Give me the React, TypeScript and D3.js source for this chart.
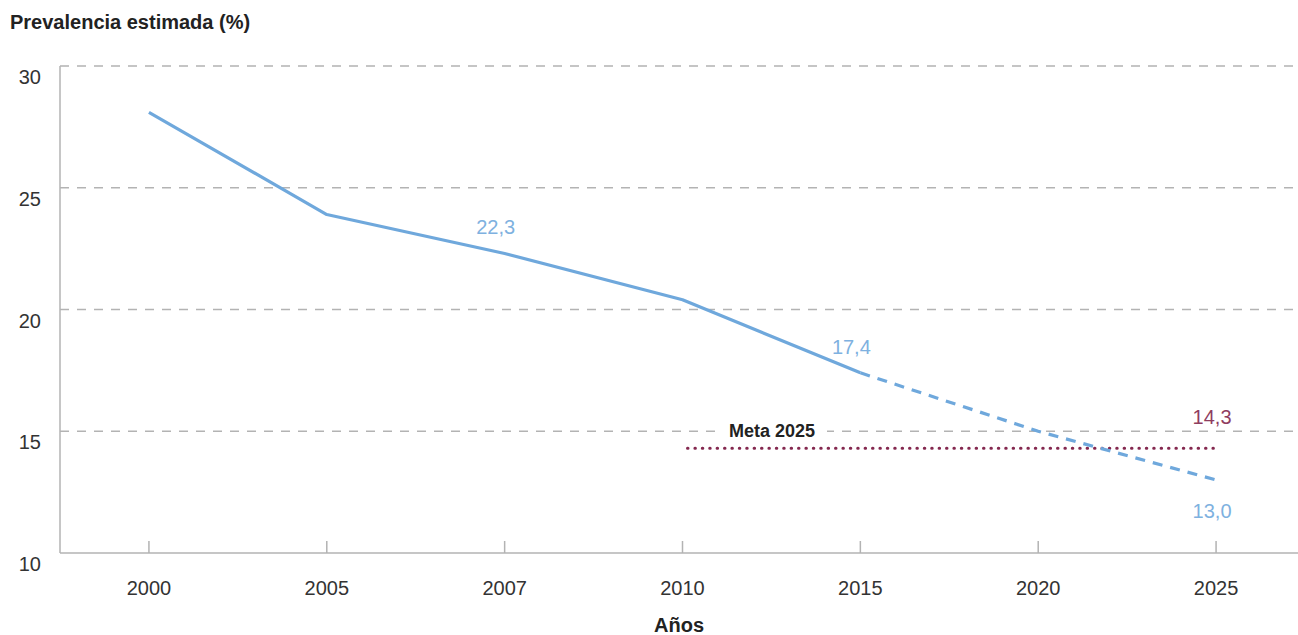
import React, { useEffect, useRef } from 'react';
import * as d3 from 'd3';

const years = ['2000', '2005', '2007', '2010', '2015', '2020', '2025'];
const prevalence = [28.1, 23.9, 22.3, 20.4, 17.4, 15.0, 13.0];
const yTicks = [10, 15, 20, 25, 30];
const labelled = [
  { year: '2007', value: 22.3, text: '22,3' },
  { year: '2015', value: 17.4, text: '17,4' },
];
const lastLabel = { year: '2025', value: 13.0, text: '13,0' };
const metaStart = '2010';
const metaEnd = '2025';
const metaValue = 14.3;
const metaText = '14,3';

const App: React.FC = () => {
  const svgRef = useRef<SVGSVGElement>(null);

  useEffect(() => {
    if (!svgRef.current) return;
    const width = 1298;
    const height = 635;
    const svg = d3.select(svgRef.current);
    svg.selectAll('*').remove();
    svg.attr('width', width).attr('height', height).attr('viewBox', `0 0 ${width} ${height}`);

    const font = "'Liberation Sans', Arial, sans-serif";
    const blue = '#6fa8dc';
    const blueText = '#7eb1e0';
    const maroon = '#84284f';
    const grey = '#b3b3b3';

    const left = 60;
    const x = d3.scalePoint<string>().domain(years).range([left, 1305]).padding(0.5);
    const y = d3.scaleLinear().domain([10, 30]).range([553, 66]);

    // Title
    svg.append('text')
      .attr('x', 10).attr('y', 29)
      .attr('font-family', font).attr('font-size', 20).attr('font-weight', 'bold')
      .attr('fill', '#222')
      .text('Prevalencia estimada (%)');

    // Grid
    svg.append('g')
      .selectAll('line')
      .data(yTicks.filter(t => t > 10))
      .join('line')
      .attr('x1', left).attr('x2', width)
      .attr('y1', d => y(d)).attr('y2', d => y(d))
      .attr('stroke', grey).attr('stroke-width', 1.5)
      .attr('stroke-dasharray', '9,8');

    // Y labels
    svg.append('g')
      .selectAll('text')
      .data(yTicks)
      .join('text')
      .attr('x', 41).attr('y', d => y(d) + 18)
      .attr('text-anchor', 'end')
      .attr('font-family', font).attr('font-size', 20).attr('fill', '#333')
      .text(d => String(d));

    // Axes lines
    svg.append('line')
      .attr('x1', left).attr('x2', left).attr('y1', y(30)).attr('y2', y(10))
      .attr('stroke', grey).attr('stroke-width', 1.5);
    svg.append('line')
      .attr('x1', left).attr('x2', width).attr('y1', y(10)).attr('y2', y(10))
      .attr('stroke', grey).attr('stroke-width', 1.5);

    // X ticks
    svg.append('g')
      .selectAll('line')
      .data(years)
      .join('line')
      .attr('x1', d => x(d)!).attr('x2', d => x(d)!)
      .attr('y1', y(10)).attr('y2', y(10) - 12)
      .attr('stroke', grey).attr('stroke-width', 1.5);

    svg.append('g')
      .selectAll('text')
      .data(years)
      .join('text')
      .attr('x', d => x(d)!).attr('y', 595)
      .attr('text-anchor', 'middle')
      .attr('font-family', font).attr('font-size', 20).attr('fill', '#333')
      .text(d => d);

    svg.append('text')
      .attr('x', (left + width) / 2).attr('y', 632)
      .attr('text-anchor', 'middle')
      .attr('font-family', font).attr('font-size', 20).attr('font-weight', 'bold')
      .attr('fill', '#222')
      .text('Años');

    // Meta label with white background over gridline
    const metaLabelX = 772;
    svg.append('rect')
      .attr('x', metaLabelX - 55).attr('y', y(15) - 8)
      .attr('width', 110).attr('height', 16)
      .attr('fill', '#fff');
    svg.append('text')
      .attr('x', metaLabelX).attr('y', 437)
      .attr('text-anchor', 'middle')
      .attr('font-family', font).attr('font-size', 18).attr('font-weight', 'bold')
      .attr('fill', '#222')
      .text('Meta 2025');

    // Meta dotted line
    svg.append('line')
      .attr('x1', x(metaStart)! + 5).attr('x2', x(metaEnd)!)
      .attr('y1', y(metaValue)).attr('y2', y(metaValue))
      .attr('stroke', maroon).attr('stroke-width', 3)
      .attr('stroke-linecap', 'round')
      .attr('stroke-dasharray', '0.5,6.9');

    svg.append('text')
      .attr('x', x(metaEnd)! - 4).attr('y', 424)
      .attr('text-anchor', 'middle')
      .attr('font-family', font).attr('font-size', 20).attr('fill', '#8f3d5f')
      .text(metaText);

    // Series
    const pts = years.map((yr, i) => ({ yr, v: prevalence[i] }));
    const line = d3.line<{ yr: string; v: number }>()
      .x(d => x(d.yr)!)
      .y(d => y(d.v));
    const splitIdx = years.indexOf('2015');

    svg.append('path')
      .datum(pts.slice(0, splitIdx + 1))
      .attr('fill', 'none')
      .attr('stroke', blue).attr('stroke-width', 3.2)
      .attr('stroke-linejoin', 'round')
      .attr('d', line);

    svg.append('path')
      .datum(pts.slice(splitIdx))
      .attr('fill', 'none')
      .attr('stroke', blue).attr('stroke-width', 3.2)
      .attr('stroke-dasharray', '10,8')
      .attr('d', line);

    svg.append('g')
      .selectAll('text')
      .data(labelled)
      .join('text')
      .attr('x', d => x(d.year)! - 9)
      .attr('y', d => y(d.value) - 19)
      .attr('text-anchor', 'middle')
      .attr('font-family', font).attr('font-size', 20).attr('fill', blueText)
      .text(d => d.text);

    svg.append('text')
      .attr('x', x(lastLabel.year)! - 4).attr('y', y(lastLabel.value) + 38)
      .attr('text-anchor', 'middle')
      .attr('font-family', font).attr('font-size', 20).attr('fill', blueText)
      .text(lastLabel.text);
  }, []);

  return (
    <div style={{ position: 'absolute', left: 0, top: 0 }}>
      <svg ref={svgRef} style={{ display: 'block' }}></svg>
    </div>
  );
};

export default App;
